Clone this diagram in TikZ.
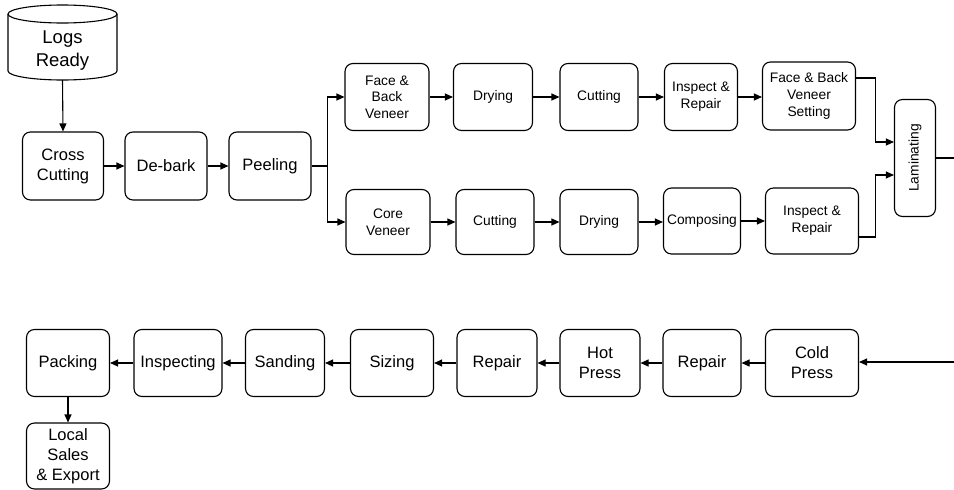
\documentclass[tikz,border=0pt]{standalone}
\usepackage{fontspec}
\setmainfont{Liberation Sans}
\usetikzlibrary{arrows.meta}

\tikzset{
  stepbox/.style={draw, line width=1.1pt, rounded corners=8pt, align=center,
    inner sep=1pt, font=\fontsize{16.5}{20}\selectfont},
  smallbox/.style={stepbox, font=\fontsize{13.8}{16.7}\selectfont},
  flow/.style={line width=1.1pt, -{Triangle[length=8pt,width=7pt]}},
  plain/.style={line width=1.1pt}
}

\begin{document}
\begin{tikzpicture}[x=1pt, y=-1pt]
  \useasboundingbox (0,0) rectangle (954,490);

  % raw material store (cylinder)
  \draw[line width=1.1pt, fill=white] (8,14) -- (8,71) arc (180:0:54.5 and 9) -- (117,14);
  \draw[line width=1.1pt] (62.5,14) ellipse (54.5 and 9);
  \node[align=center, font=\fontsize{18.5}{23}\selectfont, minimum width=109pt, minimum height=58pt, inner sep=0pt]
    (logs) at (62.5,51) {Logs\\Ready};
  \coordinate (logsbot) at (62.5,80);

  % first row
  \node[stepbox, minimum width=81pt, minimum height=68pt] (cc) at (63,166) {Cross\\Cutting};
  \node[stepbox, minimum width=82pt, minimum height=68pt] (db) at (166,166) {De-bark};
  \node[stepbox, minimum width=82pt, minimum height=68pt] (pe) at (270,166) {Peeling};

  % face & back veneer line
  \node[smallbox, minimum width=84pt, minimum height=67pt] (fbv) at (387,97) {Face \&\\Back\\Veneer};
  \node[smallbox, minimum width=79pt, minimum height=67pt] (dr1) at (493,97) {Drying};
  \node[smallbox, minimum width=78pt, minimum height=67pt] (cu1) at (599,97) {Cutting};
  \node[smallbox, minimum width=73pt, minimum height=67pt] (ir1) at (701,97) {Inspect \&\\Repair};
  \node[smallbox, minimum width=93pt, minimum height=68pt] (fbvs) at (809,96) {Face \& Back\\Veneer\\Setting};

  % core veneer line
  \node[smallbox, minimum width=84pt, minimum height=65pt] (cv) at (388,222) {Core\\Veneer};
  \node[smallbox, minimum width=78pt, minimum height=65pt] (cu2) at (495,222) {Cutting};
  \node[smallbox, minimum width=78pt, minimum height=65pt] (dr2) at (599,222) {Drying};
  \node[smallbox, minimum width=77pt, minimum height=66pt] (co) at (702,221) {Composing};
  \node[smallbox, minimum width=93pt, minimum height=66pt] (ir2) at (812,221) {Inspect \&\\Repair};

  \node[smallbox, minimum width=41pt, minimum height=117pt] (lam) at (915,158) {\rotatebox{90}{Laminating}};

  % finishing row
  \node[stepbox, minimum width=93pt, minimum height=67pt] (cp) at (812,363) {Cold\\Press};
  \node[stepbox, minimum width=78pt, minimum height=67pt] (rp2) at (702,363) {Repair};
  \node[stepbox, minimum width=80pt, minimum height=67pt] (hp) at (600,363) {Hot\\Press};
  \node[stepbox, minimum width=80pt, minimum height=67pt] (rp1) at (497,363) {Repair};
  \node[stepbox, minimum width=83pt, minimum height=67pt] (si) at (392,363) {Sizing};
  \node[stepbox, minimum width=79pt, minimum height=67pt] (sa) at (285,363) {Sanding};
  \node[stepbox, minimum width=88pt, minimum height=67pt] (insp) at (178,363) {Inspecting};
  \node[stepbox, minimum width=83pt, minimum height=67pt] (pk) at (68,363) {Packing};
  \node[stepbox, minimum width=83pt, minimum height=66pt] (ls) at (68,456) {Local\\Sales\\\& Export};

  % loop-around ends at the right border
  \coordinate (outA) at (954,158);
  \coordinate (outB) at (954,362);

  % connectors
  \draw[flow] (logsbot) -- (cc.north);
  \draw[flow] (cc) -- (db);
  \draw[flow] (db) -- (pe);
  \draw[flow] (pe.east) -- ++(16,0) |- (fbv.west);
  \draw[flow] (pe.east) -- ++(16,0) |- (cv.west);

  \draw[flow] (fbv) -- (dr1);
  \draw[flow] (dr1) -- (cu1);
  \draw[flow] (cu1) -- (ir1);
  \draw[flow] (ir1.east) -- (fbvs.west |- ir1.east);

  \draw[flow] (cv) -- (cu2);
  \draw[flow] (cu2) -- (dr2);
  \draw[flow] (dr2.east) -- (co.west |- dr2.east);
  \draw[flow] (co) -- (ir2);

  \draw[flow] ([yshift=18pt]fbvs.east) -- ++(19,0) |- ([yshift=16pt]lam.west);
  \draw[flow] ([yshift=-16pt]ir2.east) -- ++(16,0) |- ([yshift=-17pt]lam.west);
  \draw[plain] (lam.east) -- (outA);

  \draw[flow] (outB) -- (cp.east |- outB);
  \draw[flow] (cp) -- (rp2);
  \draw[flow] (rp2) -- (hp);
  \draw[flow] (hp) -- (rp1);
  \draw[flow] (rp1) -- (si);
  \draw[flow] (si) -- (sa);
  \draw[flow] (sa) -- (insp);
  \draw[flow] (insp) -- (pk);
  \draw[flow] (pk) -- (ls);
\end{tikzpicture}
\end{document}
